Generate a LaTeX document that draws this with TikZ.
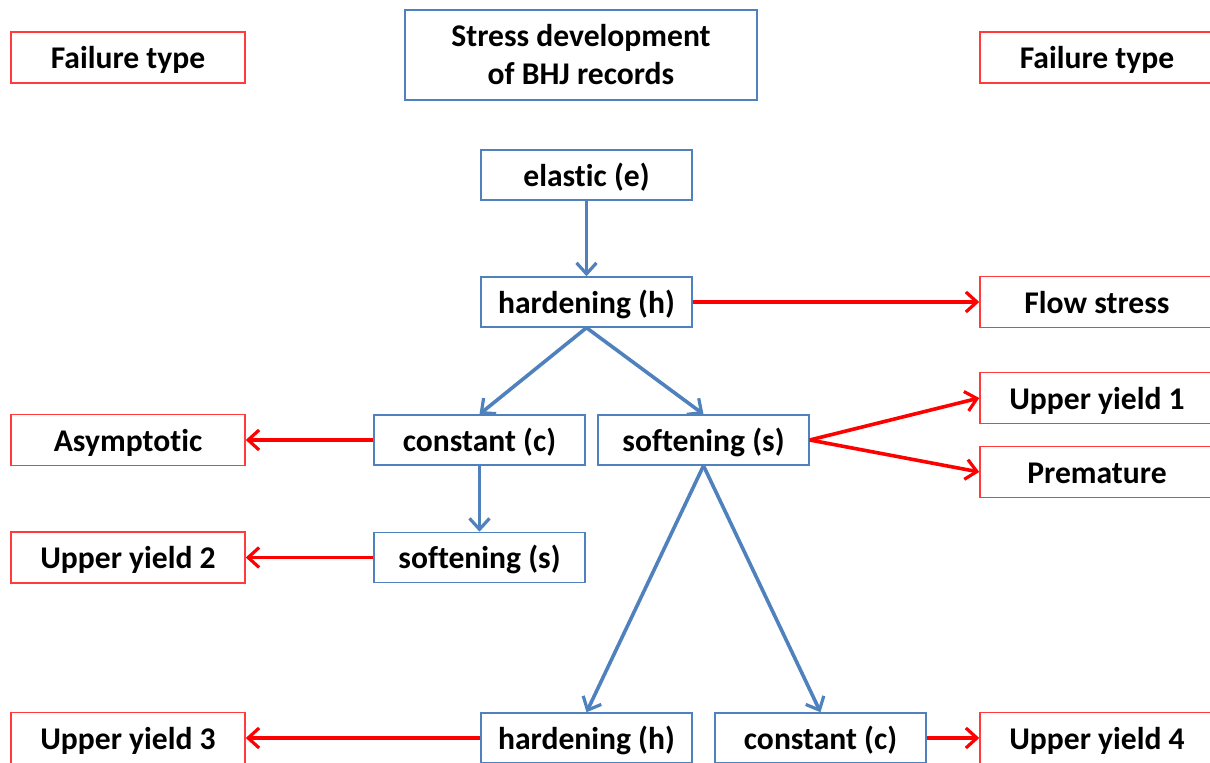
\documentclass[tikz,border=0pt]{standalone}
\usepackage{fontspec}
\setmainfont{Carlito}[Ligatures=NoCommon]
\usepackage{xcolor}
\definecolor{cStage}{HTML}{4F81BD}
\definecolor{cFail}{HTML}{FF3B3B}
\definecolor{cRed}{HTML}{FF0000}
\usepackage{tikz}
\usetikzlibrary{arrows.meta}

\begin{document}
\begin{tikzpicture}[
    x=0.5pt, y=-0.5pt,
    titlebox/.style={draw=cStage, line width=0.75pt, align=center, fill=white,
                     minimum width=176pt, minimum height=45pt,
                     inner sep=2pt, font=\bfseries\fontsize{15.8}{19}\selectfont},
    stagebox/.style={titlebox, minimum width=105.5pt, minimum height=25pt,
                     text height=14.5pt, text depth=3pt},
    failbox/.style={stagebox, draw=cFail, minimum width=117pt, minimum height=25.5pt},
    arr/.style={-{Straight Barb[length=5.5pt, width=10pt, line width=1.6pt]}, line width=1.8pt, color=cStage},
    failarr/.style={arr, color=cRed}
]
\useasboundingbox (0,0) rectangle (1210,763);
\clip (0,0) rectangle (1210,763);

\node[failbox] (failL) at (128,57.5) {Failure type};
\node[failbox] (failR) at (1097,57.5) {Failure type};
\node[titlebox] (title) at (581,55) {Stress development\\of BHJ records};

\node[stagebox] (elastic) at (586.5,175) {elastic (e)};
\node[stagebox] (hardA) at (586.5,302) {hardening (h)};
\node[stagebox] (constA) at (479.5,440) {constant (c)};
\node[stagebox] (softA) at (703.5,440) {softening (s)};
\node[stagebox] (softB) at (479.5,557.5) {softening (s)};
\node[stagebox] (hardB) at (586.5,738) {hardening (h)};
\node[stagebox] (constB) at (820.5,738) {constant (c)};

\node[failbox] (flow) at (1097,302) {Flow stress};
\node[failbox] (upperA) at (1097,398) {Upper yield 1};
\node[failbox] (premature) at (1097,472) {Premature};
\node[failbox] (asym) at (128,440) {Asymptotic};
\node[failbox] (upperB) at (128,557.5) {Upper yield 2};
\node[failbox] (upperC) at (128,738) {Upper yield 3};
\node[failbox] (upperD) at (1097,738) {Upper yield 4};

\draw[arr] (elastic) -- (hardA);
\draw[arr] (hardA.south) -- (constA.north);
\draw[arr] (hardA.south) -- (softA.north);
\draw[arr] (constA) -- (softB);
\draw[arr] (softA.south) -- (hardB.north);
\draw[arr] (softA.south) -- (constB.north);

\draw[failarr] (hardA) -- (flow);
\draw[failarr] (softA.east) -- (upperA.west);
\draw[failarr] (softA.east) -- (premature.west);
\draw[failarr] (constA) -- (asym);
\draw[failarr] (softB) -- (upperB);
\draw[failarr] (hardB) -- (upperC);
\draw[failarr] (constB) -- (upperD);
\end{tikzpicture}
\end{document}
